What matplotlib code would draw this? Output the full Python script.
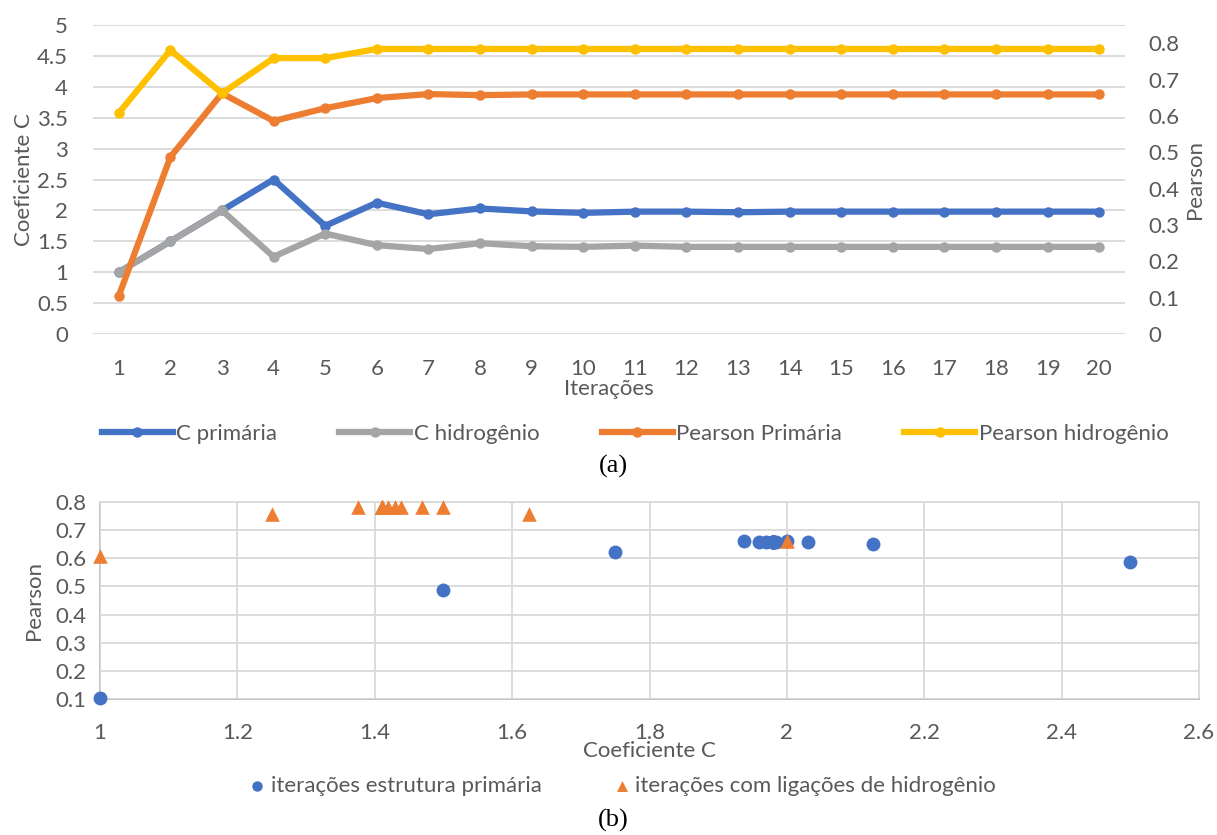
import matplotlib
matplotlib.use("Agg")
import matplotlib.pyplot as plt

plt.rcParams['font.family'] = ['Lato', 'DejaVu Sans']

iteracoes = list(range(1, 21))
c_primaria = [1.0, 1.5, 2.0, 2.5, 1.75, 2.125, 1.9375, 2.03125, 1.984, 1.96,
              1.98, 1.98, 1.97, 1.98, 1.98, 1.98, 1.98, 1.98, 1.98, 1.98]
c_hidrogenio = [1.0, 1.5, 2.0, 1.25, 1.625, 1.4375, 1.375, 1.46875, 1.42, 1.41,
                1.43, 1.41, 1.41, 1.41, 1.41, 1.41, 1.41, 1.41, 1.41, 1.41]
pearson_primaria = [0.105, 0.487, 0.662, 0.586, 0.621, 0.649, 0.660, 0.657, 0.659, 0.659,
                    0.659, 0.659, 0.659, 0.659, 0.659, 0.659, 0.659, 0.659, 0.659, 0.659]
pearson_hidrogenio = [0.608, 0.781, 0.662, 0.759, 0.759, 0.784, 0.784, 0.784, 0.784, 0.784,
                      0.784, 0.784, 0.784, 0.784, 0.784, 0.784, 0.784, 0.784, 0.784, 0.784]

left_ticks = [0, 0.5, 1, 1.5, 2, 2.5, 3, 3.5, 4, 4.5, 5]
left_labels = ['0', '0.5', '1', '1.5', '2', '2.5', '3', '3.5', '4', '4.5', '5']
right_ticks = [0, 0.1, 0.2, 0.3, 0.4, 0.5, 0.6, 0.7, 0.8]
sc_xticks = [1, 1.2, 1.4, 1.6, 1.8, 2, 2.2, 2.4, 2.6]
sc_xlabels = ['1', '1.2', '1.4', '1.6', '1.8', '2', '2.2', '2.4', '2.6']
sc_yticks = [0.1, 0.2, 0.3, 0.4, 0.5, 0.6, 0.7, 0.8]

BLUE = '#4472C4'
GRAY = '#A5A5A5'
ORANGE = '#ED7D31'
YELLOW = '#FFC000'
TXT = '#595959'
GRID = '#D9D9D9'
FS = 16

W, H = 1217, 835
fig = plt.figure(figsize=(W / 100, H / 100), dpi=100)

# ---------- (a) ----------
ax = fig.add_axes([93 / W, 1 - 334 / H, (1125 - 93) / W, 309 / H])
ax2 = ax.twinx()
lw, ms = 4.5, 6.5
l1, = ax.plot(iteracoes, c_primaria, color=BLUE, lw=lw, marker='o', ms=ms, zorder=3)
l2, = ax.plot(iteracoes, c_hidrogenio, color=GRAY, lw=lw, marker='o', ms=ms, zorder=4)
l3, = ax2.plot(iteracoes, pearson_primaria, color=ORANGE, lw=lw, marker='o', ms=ms, zorder=3)
l4, = ax2.plot(iteracoes, pearson_hidrogenio, color=YELLOW, lw=lw, marker='o', ms=ms, zorder=4)
ax.set_xlim(0.5, 20.5)
ax.set_ylim(0, 5)
ax2.set_ylim(0, 0.85)
ax.set_yticks(left_ticks)
ax.set_yticklabels(left_labels)
ax2.set_yticks(right_ticks)
ax2.set_yticklabels([f'{v:g}' for v in right_ticks])
ax.set_xticks(iteracoes)
ax.set_xticklabels([str(i) for i in iteracoes])
ax.grid(axis='y', color=GRID, lw=1.3)
ax.set_axisbelow(True)
for a in (ax, ax2):
    for s in a.spines.values():
        s.set_visible(False)
ax.tick_params(axis='both', length=0, labelsize=FS, colors=TXT)
ax.tick_params(axis='y', pad=18)
ax.tick_params(axis='x', pad=18)
ax2.tick_params(axis='y', length=0, labelsize=FS, colors=TXT, pad=17)
ax.set_xlabel('Iterações', fontsize=FS, color=TXT, labelpad=0)
ax.set_ylabel('Coeficiente C', fontsize=FS, color=TXT, labelpad=2)
ax2.set_ylabel('Pearson', fontsize=FS, color=TXT, labelpad=4)

fig.legend([l1, l2, l3, l4], ['C primária', 'C hidrogênio', 'Pearson Primária', 'Pearson hidrogênio'],
           loc='center', bbox_to_anchor=(635 / W, 1 - 434 / H), ncol=4, frameon=False,
           fontsize=FS, labelcolor=TXT, handlelength=3.2, handletextpad=0.15,
           columnspacing=2.8)
fig.text(613 / W, 1 - 466 / H, '(a)', ha='center', va='center', fontsize=19,
         family=['Liberation Serif', 'DejaVu Serif'], color='black')

# ---------- (b) ----------
bx = fig.add_axes([100 / W, 1 - 699 / H, 1099 / W, 197 / H])
bx.scatter(c_primaria, pearson_primaria, s=100, color=BLUE, marker='o', zorder=3,
           linewidths=0, label='iterações estrutura primária', clip_on=False)
bx.scatter(c_hidrogenio, pearson_hidrogenio, s=110, color=ORANGE, marker='^', zorder=4,
           linewidths=0, label='iterações com ligações de hidrogênio', clip_on=False)
bx.set_xlim(1, 2.6)
bx.set_ylim(0.1, 0.8)
bx.set_xticks(sc_xticks)
bx.set_xticklabels(sc_xlabels)
bx.set_yticks(sc_yticks)
bx.set_yticklabels([f'{v:g}' for v in sc_yticks])
bx.grid(True, color=GRID, lw=1.3)
bx.set_axisbelow(True)
for s in bx.spines.values():
    s.set_color(GRID)
    s.set_linewidth(1.3)
    s.set_zorder(0.5)
bx.spines['left'].set_color('#BFBFBF')
bx.spines['bottom'].set_color('#BFBFBF')
bx.tick_params(axis='both', length=0, labelsize=FS, colors=TXT)
bx.tick_params(axis='y', pad=10)
bx.tick_params(axis='x', pad=17)
bx.set_xlabel('Coeficiente C', fontsize=FS, color=TXT, labelpad=-1)
bx.set_ylabel('Pearson', fontsize=FS, color=TXT, labelpad=8)
bx.legend(loc='center', bbox_to_anchor=(622 / W, 1 - 786 / H), bbox_transform=fig.transFigure,
          ncol=2, frameon=False, fontsize=FS, labelcolor=TXT, handlelength=0.8,
          handletextpad=0.2, columnspacing=3.2, markerscale=0.75)
fig.text(613 / W, 1 - 820 / H, '(b)', ha='center', va='center', fontsize=19,
         family=['Liberation Serif', 'DejaVu Serif'], color='black')

fig.savefig('out.png', dpi=100)
